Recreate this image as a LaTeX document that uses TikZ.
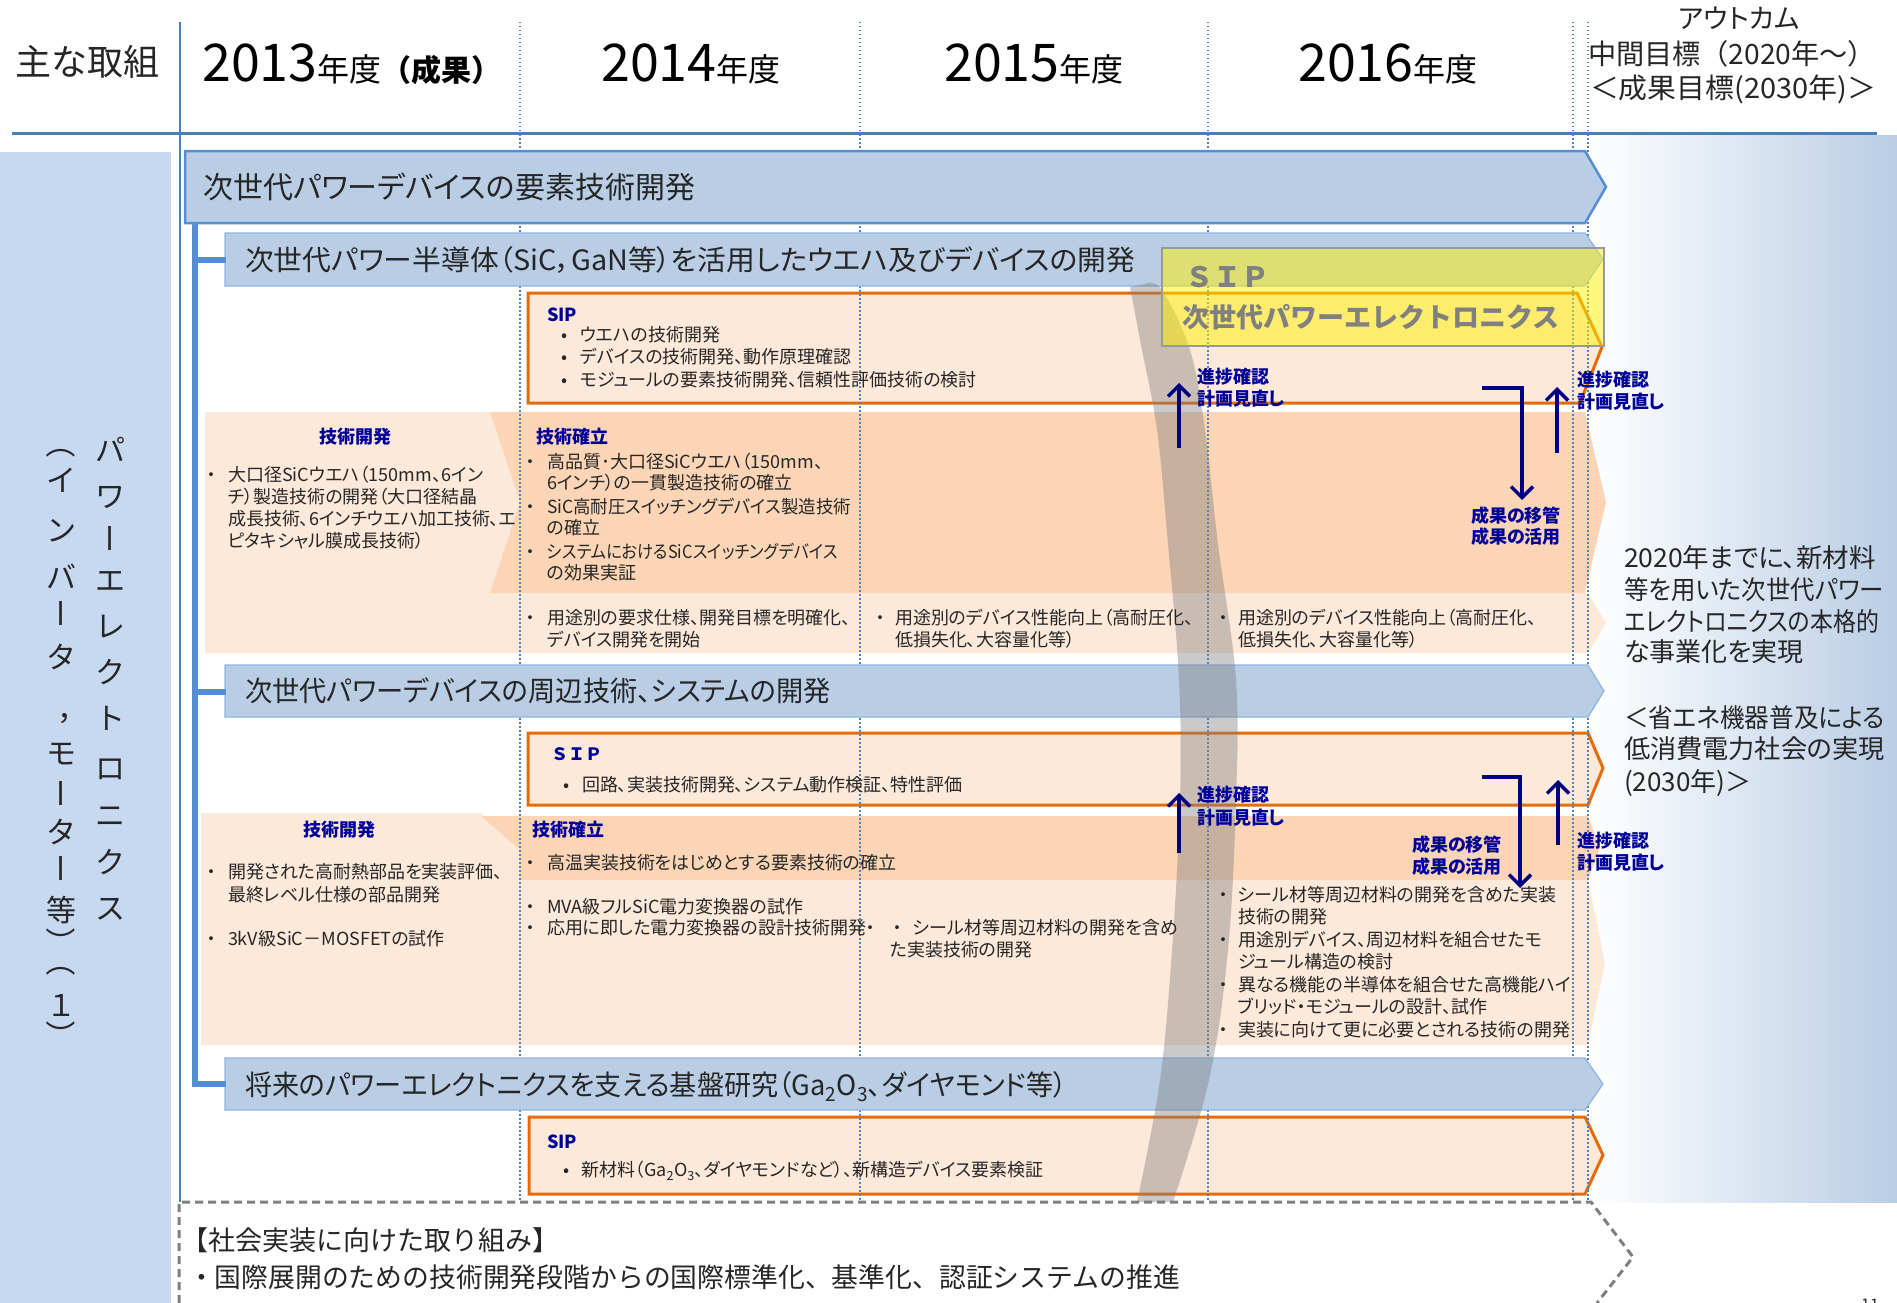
\documentclass[tikz,border=0pt]{standalone}
\usepackage{fontspec}
\usepackage{graphicx}
\setmainfont{Noto Sans CJK JP}
\newfontfamily\pj{Noto Sans CJK JP}[RawFeature=+palt]
\usetikzlibrary{arrows.meta}
\definecolor{barfill}{HTML}{B9CDE5}
\definecolor{barline}{HTML}{558ED5}
\definecolor{subline}{HTML}{8DB4E2}
\definecolor{rulec}{HTML}{4A7EBB}
\definecolor{leftp}{HTML}{C6D9F1}
\definecolor{peachL}{HTML}{FDE9D9}
\definecolor{peachD}{HTML}{FBD5B5}
\definecolor{orng}{HTML}{E46C0A}
\definecolor{jnavy}{HTML}{000099}
\definecolor{anavy}{HTML}{000080}
\definecolor{dotc}{HTML}{4F81BD}
\definecolor{txt}{HTML}{262626}
\definecolor{sipgray}{HTML}{808080}
\definecolor{dashc}{HTML}{7F7F7F}
\newcommand\fsz[1]{\fontsize{#1pt}{#1pt}\selectfont}
\newcommand\cj[1]{\raisebox{0pt}[0.88em][0.12em]{#1}}
\newcommand\fitw[2]{\resizebox{#1pt}{\height}{#2}}
\newcommand\jt[4][]{\node[tl,#1] (#2) at (#3) {\cj{#4}};}
\tikzset{
  tl/.style={inner sep=0pt, outer sep=0pt, anchor=west, text=txt, font=\pj\fsz{18}},
  lab/.style={font=\pj\bfseries\fsz{18}, text=jnavy},
  vt/.style={inner sep=0pt, outer sep=0pt, anchor=center, text=txt, font=\fsz{30}},
  arr/.style={draw=anavy, line width=3.5pt, -{Straight Barb[length=11pt,width=22pt]}},
  mainbar/.style={fill=barfill, draw=barline, line width=2.5pt},
  subbar/.style={fill=barfill, draw=subline, line width=1.2pt},
  sipbox/.style={fill=peachL, draw=orng, line width=3pt},
  dotl/.style={draw=dotc, line width=1.4pt, dash pattern=on 1.5pt off 2.5pt},
  conn/.style={draw=barline, line width=6.5pt},
}
\begin{document}
\begin{tikzpicture}[x=1pt,y=-1pt]
\useasboundingbox (0,0) rectangle (1897,1303);
% backgrounds
\shade[left color=white, right color=barfill] (1588,136) rectangle (1897,1202);
\fill[leftp] (0,152) rectangle (171,1303);
% band 1
\fill[peachL] (205,412) -- (490,412) -- (520,502) -- (490,593) -- (1588,593) -- (1606,623) -- (1588,653) -- (205,653) -- cycle;
\fill[peachD] (490,412) -- (1585,412) -- (1606,502) -- (1585,593) -- (490,593) -- (520,502) -- cycle;
% band 2
\fill[peachL] (201,813) -- (481,813) -- (520,850) -- (520,880) -- (1588,880) -- (1605,963) -- (1588,1045) -- (201,1045) -- cycle;
\fill[peachD] (481,816) -- (1588,816) -- (1600,848) -- (1588,880) -- (520,880) -- (520,850) -- cycle;
% SIP boxes
\draw[sipbox] (528,293) -- (1577,293) -- (1602,347) -- (1580,403) -- (528,403) -- cycle;
\draw[sipbox] (528,733) -- (1588,733) -- (1603,768) -- (1588,805) -- (528,805) -- cycle;
\draw[sipbox] (529,1117) -- (1585,1117) -- (1603,1155) -- (1585,1194) -- (529,1194) -- cycle;
% dotted year lines
\foreach \x [count=\i] in {520,860,1208,1573,1588} {
  \coordinate (dt\i) at (\x,22); \coordinate (db\i) at (\x,1202);
  \draw[dotl] (dt\i) -- (db\i);
}
% rules
\coordinate (vt0) at (180,22); \coordinate (vb0) at (180,1202);
\draw[rulec, line width=1.5pt] (vt0) -- (vb0);
\coordinate (rl) at (12,134); \coordinate (rr) at (1877,134);
\draw[rulec, line width=3pt] (rl) -- (rr);
% bars
\draw[mainbar] (185,151) -- (1585,151) -- (1606,187) -- (1585,223) -- (185,223) -- cycle;
\draw[subbar] (225,233) -- (1585,233) -- (1603,259) -- (1585,286) -- (225,286) -- cycle;
\draw[subbar] (225,665) -- (1588,665) -- (1604,691) -- (1588,717) -- (225,717) -- cycle;
\draw[subbar] (225,1058) -- (1585,1058) -- (1603,1084) -- (1585,1110) -- (225,1110) -- cycle;
% connector
\coordinate (c0) at (195,223);
\coordinate (j1) at (195,260); \coordinate (j2) at (195,692); \coordinate (j3) at (195,1084);
\coordinate (s1w) at (226,260); \coordinate (s2w) at (226,692); \coordinate (s3w) at (226,1084);
\draw[conn] (c0) -- (j3) -- (s3w);
\draw[conn] (j1) -- (s1w);
\draw[conn] (j2) -- (s2w);
% gray band
\fill[fill={rgb,255:red,128;green,128;blue,128}, fill opacity=0.42]
  plot[smooth, tension=0.6] coordinates {(1130,287) (1141,345) (1157,430) (1168,544) (1179,680) (1180,800) (1172,950) (1160,1080) (1137,1202)}
  -- plot[smooth, tension=0.6] coordinates {(1173,1202) (1209,1080) (1228,950) (1236,800) (1236,680) (1218,544) (1205,430) (1190,350) (1162,290) (1145,284)} -- cycle;
% yellow SIP box
\fill[fill=yellow, fill opacity=0.5] (1162,248) rectangle (1604,346);
\draw[draw=sipgray!80, line width=1.5pt] (1162,248) rectangle (1604,346);
\jt[font=\bfseries\fsz{28}, text=sipgray]{ysip}{1185,277}{ＳＩＰ}
\jt[font=\bfseries\fsz{27}, text=sipgray]{yname}{1182,317}{次世代パワーエレクトロニクス}
% dashed social box
\coordinate (d1) at (179,1303); \coordinate (d2) at (179,1202); \coordinate (d3) at (1591,1202);
\coordinate (d4) at (1633,1257); \coordinate (d5) at (1597,1303);
\draw[dashc, line width=3pt, dash pattern=on 8pt off 5pt] (d1) -- (d2) -- (d3) -- (d4) -- (d5);
% header
\jt[font=\fsz{36}]{hdr}{15,62}{主な取組}
\node[anchor=base west, inner sep=0pt, text=black] (y13) at (202,82) {{\fsz{52}2013}{\fsz{32}年度}{\bfseries\fsz{30}（成果）}};
\node[anchor=base west, inner sep=0pt, text=black] (y14) at (601,82) {{\fsz{52}2014}{\fsz{32}年度}};
\node[anchor=base west, inner sep=0pt, text=black] (y15) at (944,82) {{\fsz{52}2015}{\fsz{32}年度}};
\node[anchor=base west, inner sep=0pt, text=black] (y16) at (1298,82) {{\fsz{52}2016}{\fsz{32}年度}};
\node[inner sep=0pt, text=txt, font=\pj\fsz{27}] (oc) at (1739,18) {\cj{アウトカム}};
\jt[font=\fsz{28}]{mid}{1588,54}{\fitw{288}{中間目標（2020年～）}}
\jt[font=\fsz{28}]{fin}{1590,88}{\fitw{286}{＜成果目標(2030年)＞}}
% left vertical title
\foreach \c/\y/\r [count=\i] in {パ/450/0, ワ/496/0, ー/538/-90, エ/580/0, レ/626/0, ク/672/0, ト/718/0, ロ/768/0, ニ/815/0, ク/862/0, ス/908/0}
  {\node[vt, rotate=\r] (va\i) at (110,\y) {\cj{\c}};}
\foreach \c/\y/\r [count=\i] in {（/443/-90, イ/480/0, ン/530/0, バ/577/0, ー/613/-90, タ/657/0, モ/753/0, ー/793/-90, タ/832/0, ー/868/-90, 等/910/0, ）/942/-90, （/961/-90, １/1005/0, ）/1035/-90}
  {\node[vt, rotate=\r] (vb\i) at (61,\y) {\cj{\c}};}
\node[vt] (vcomma) at (72,709) {\cj{，}};
% bar titles
\jt[font=\pj\fsz{30}]{mbt}{203,187}{次世代パワーデバイスの要素技術開発}
\jt[font=\pj\fsz{28}]{s1t}{245,260}{\fitw{890}{次世代パワー半導体（SiC，GaN等）を活用したウエハ及びデバイスの開発}}
\jt[font=\pj\fsz{28}]{s2t}{245,691}{\fitw{586}{次世代パワーデバイスの周辺技術、システムの開発}}
\jt[font=\pj\fsz{28}]{s3t}{245,1085}{\fitw{822}{将来のパワーエレクトニクスを支える基盤研究（Ga\textsubscript{2}O\textsubscript{3}、ダイヤモンド等）}}
% SIP 1
\jt[lab]{sip1}{547,315}{SIP}
\foreach \y/\t [count=\i] in {335/ウエハの技術開発, 357/デバイスの技術開発、動作原理確認, 380/モジュールの要素技術開発、信頼性評価技術の検討}
  {\node[tl] (sb1\i) at (561,\y) {\cj{•}}; \node[tl] (st1\i) at (580,\y) {\cj{\t}};}
% band 1 texts
\node[inner sep=0pt, lab] (kk1) at (355,437) {\cj{技術開発}};
\jt[lab]{kr1}{536,437}{技術確立}
\jt{b1a}{207,475}{・}
\foreach \y/\t [count=\i] in {475/大口径SiCウエハ（150mm、6イン, 497/チ）製造技術の開発（大口径結晶, 519/成長技術、6インチウエハ加工技術、エ, 541/ピタキシャル膜成長技術）}
  {\node[tl] (l1\i) at (228,\y) {\cj{\t}};}
\jt{b1b}{526,462}{・}\jt{b1c}{526,507}{・}\jt{b1d}{526,552}{・}
\jt{m11}{547,462}{高品質･大口径SiCウエハ（150mm、}
\jt{m12}{547,483}{6インチ）の一貫製造技術の確立}
\jt{m13}{547,507}{\fitw{304}{SiC高耐圧スイッチングデバイス製造技術}}
\jt{m14}{547,528}{の確立}
\jt{m15}{547,552}{\fitw{291}{システムにおけるSiCスイッチングデバイス}}
\jt{m16}{547,573}{の効果実証}
\jt{b1e}{526,618}{・}
\jt{p1a}{547,618}{用途別の要求仕様、開発目標を明確化、}
\jt{p1b}{547,640}{デバイス開発を開始}
\jt{b1f}{876,618}{・}
\jt{q1a}{895,618}{用途別のデバイス性能向上（高耐圧化、}
\jt{q1b}{895,640}{低損失化、大容量化等）}
\jt{b1g}{1219,618}{・}
\jt{r1a}{1238,618}{用途別のデバイス性能向上（高耐圧化、}
\jt{r1b}{1238,640}{低損失化、大容量化等）}
% SIP 2
\jt[font=\bfseries\fsz{17}, text=jnavy]{sip2}{551,754}{ＳＩＰ}
\jt{sb21}{563,785}{•}
\jt{st21}{582,785}{回路、実装技術開発、システム動作検証、特性評価}
% band 2 texts
\node[inner sep=0pt, lab] (kk2) at (339,830) {\cj{技術開発}};
\jt[lab]{kr2}{532,830}{技術確立}
\jt{b2a}{207,872}{・}
\jt{l21}{228,872}{開発された高耐熱部品を実装評価、}
\jt{l22}{228,895}{最終レベル仕様の部品開発}
\jt{b2b}{207,939}{・}
\jt{l23}{228,939}{3kV級SiC－MOSFETの試作}
\jt{b2c}{526,863}{・}
\jt{m21}{547,863}{高温実装技術をはじめとする要素技術の確立}
\jt{b2d}{526,907}{・}
\jt{m22}{547,907}{MVA級フルSiC電力変換器の試作}
\jt{b2e}{526,928}{・}
\jt{m23}{547,928}{応用に即した電力変換器の設計技術開発・}
\jt{b2f}{893,928}{・}
\jt{q21}{913,928}{シール材等周辺材料の開発を含め}
\jt{q22}{890,950}{た実装技術の開発}
\jt{b2g}{1219,895}{・}\jt{b2h}{1219,940}{・}\jt{b2i}{1219,985}{・}\jt{b2j}{1219,1030}{・}
\foreach \y/\t [count=\i] in {895/シール材等周辺材料の開発を含めた実装, 917/技術の開発, 940/用途別デバイス、周辺材料を組合せたモ, 962/ジュール構造の検討, 985/異なる機能の半導体を組合せた高機能ハイ, 1007/ブリッド・モジュールの設計、試作, 1030/実装に向けて更に必要とされる技術の開発}
  {\node[tl] (r2\i) at (1238,\y) {\cj{\t}};}
% SIP 3
\jt[lab]{sip3}{547,1142}{SIP}
\jt{sb31}{563,1170}{•}
\jt{st31}{581,1170}{新材料（Ga\textsubscript{2}O\textsubscript{3}、ダイヤモンドなど）、新構造デバイス要素検証}
% arrows band 1
\coordinate (a1s) at (1179,448); \coordinate (a1e) at (1179,383);
\draw[arr] (a1s) -- (a1e);
\coordinate (a2s) at (1482,388); \coordinate (a2m) at (1522,388); \coordinate (a2e) at (1522,500);
\draw[arr] (a2s) -- (a2m) -- (a2e);
\coordinate (a3s) at (1557,453); \coordinate (a3e) at (1557,387);
\draw[arr] (a3s) -- (a3e);
\jt[lab]{a1l1}{1197,377}{進捗確認}\jt[lab]{a1l2}{1197,399}{計画見直し}
\jt[lab]{a2l1}{1471,516}{成果の移管}\jt[lab]{a2l2}{1471,537}{成果の活用}
\jt[lab]{a3l1}{1577,380}{進捗確認}\jt[lab]{a3l2}{1577,402}{計画見直し}
% arrows band 2
\coordinate (b1s) at (1179,853); \coordinate (b1e) at (1179,793);
\draw[arr] (b1s) -- (b1e);
\coordinate (b2s) at (1482,777); \coordinate (b2m) at (1520,777); \coordinate (b2e) at (1520,888);
\draw[arr] (b2s) -- (b2m) -- (b2e);
\coordinate (b3s) at (1558,845); \coordinate (b3e) at (1558,780);
\draw[arr] (b3s) -- (b3e);
\jt[lab]{b1l1}{1197,795}{進捗確認}\jt[lab]{b1l2}{1197,818}{計画見直し}
\jt[lab]{b2l1}{1412,845}{成果の移管}\jt[lab]{b2l2}{1412,867}{成果の活用}
\jt[lab]{b3l1}{1577,841}{進捗確認}\jt[lab]{b3l2}{1577,863}{計画見直し}
% outcomes
\jt[font=\pj\fsz{26}]{oc1}{1624,558}{\fitw{252}{2020年までに、新材料}}
\jt[font=\pj\fsz{26}]{oc2}{1624,590}{\fitw{260}{等を用いた次世代パワー}}
\jt[font=\pj\fsz{26}]{oc3}{1624,622}{\fitw{255}{エレクトロニクスの本格的}}
\jt[font=\pj\fsz{26}]{oc4}{1624,652}{な事業化を実現}
\jt[font=\pj\fsz{26}]{oc5}{1624,718}{\fitw{261}{＜省エネ機器普及による}}
\jt[font=\pj\fsz{26}]{oc6}{1624,749}{\fitw{261}{低消費電力社会の実現}}
\jt[font=\pj\fsz{26}]{oc7}{1624,782}{(2030年)＞}
% social implementation
\jt[font=\fsz{27}]{soc1}{181,1240}{【社会実装に向けた取り組み】}
\jt[font=\fsz{27}]{soc2}{188,1277}{\fitw{992}{・国際展開のための技術開発段階からの国際標準化、基準化、認証システムの推進}}
\node[anchor=north west, inner sep=0pt, font=\fsz{16}, text=txt] (pg) at (1861,1299) {11};
\end{tikzpicture}
\end{document}
